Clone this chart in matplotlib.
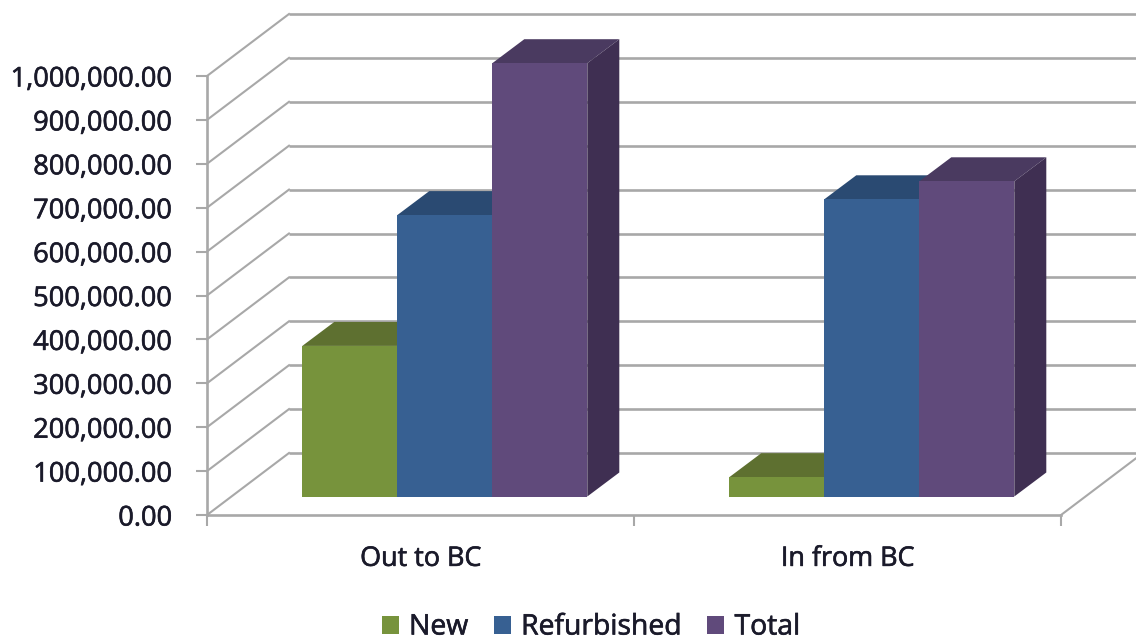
import matplotlib
matplotlib.use("Agg")
import matplotlib.pyplot as plt
import matplotlib.patheffects as pe
from matplotlib.patches import Polygon
from matplotlib.transforms import ScaledTranslation
from matplotlib.ticker import FuncFormatter

categories = ["Out to BC", "In from BC"]
series_names = ["New", "Refurbished", "Total"]
new_values = [343000, 44000]
refurbished_values = [641000, 677000]
total_values = [987000, 718000]
y_ticks = list(range(0, 1000001, 100000))

front_colors = ["#77933C", "#376092", "#604A7B"]
top_colors = ["#5E7030", "#2A4A72", "#4A3A60"]
side_colors = ["#4F5F28", "#233D5E", "#3F2F52"]
GRID = "#a8a8a8"
INK = "#1a1a2a"

W, H = 1136, 641
plt.rcParams["font.family"] = ["Open Sans", "DejaVu Sans"]
fig = plt.figure(figsize=(W / 100, H / 100), dpi=100, facecolor="white")
L, R, B, T = 207, 1061, 515, 76
ax = fig.add_axes([L / W, 1 - B / H, (R - L) / W, (B - T) / H])
ax.set_xlim(0, 2)
ax.set_ylim(0, 1000000)
ax.patch.set_visible(False)
for s in ("top", "right"):
    ax.spines[s].set_visible(False)
for s in ("left", "bottom"):
    ax.spines[s].set_color(GRID)
    ax.spines[s].set_linewidth(1.9)

px_x = 2 / (R - L)
px_y = 1000000 / (B - T)
wall_dx, wall_dy = 82 * px_x, 62 * px_y
bar_dx, bar_dy = 32 * px_x, 24 * px_y
bar_w = 95 * px_x

for t in y_ticks:
    ax.plot([0, wall_dx], [t, t + wall_dy], color=GRID, lw=1.5, clip_on=False, zorder=1)
    ax.plot([wall_dx, 2 + wall_dx], [t + wall_dy] * 2, color=GRID, lw=1.9,
            clip_on=False, zorder=1, solid_capstyle="butt")
ax.plot([2, 2 + wall_dx], [0, wall_dy], color=GRID, lw=1.5, clip_on=False, zorder=1)

shift = ax.transData + ScaledTranslation(24.3 / 100, 18.5 / 100, fig.dpi_scale_trans)
all_values = [new_values, refurbished_values, total_values]
z = 3
handles = []
for c in range(len(categories)):
    for i, values in enumerate(all_values):
        x0 = c + 0.5 + (i - 1.5) * bar_w
        v = values[c]
        ax.add_patch(Polygon([(x0, v), (x0 + bar_dx, v + bar_dy),
                              (x0 + bar_w + bar_dx, v + bar_dy), (x0 + bar_w, v)],
                             closed=True, fc=top_colors[i], ec="none",
                             transform=shift, zorder=z, clip_on=False))
        ax.add_patch(Polygon([(x0 + bar_w, 0), (x0 + bar_w + bar_dx, bar_dy),
                              (x0 + bar_w + bar_dx, v + bar_dy), (x0 + bar_w, v)],
                             closed=True, fc=side_colors[i], ec="none",
                             transform=shift, zorder=z, clip_on=False))
        b = ax.bar(x0, v, width=bar_w, align="edge", color=front_colors[i],
                   transform=shift, zorder=z + 1, clip_on=False,
                   label=series_names[i] if c == 0 else None)
        if c == 0:
            handles.append(b)
        z += 2

ax.set_xlim(0, 2)
ax.set_ylim(0, 1000000)
ax.set_yticks(y_ticks)
ax.yaxis.set_major_formatter(FuncFormatter(lambda v, _: f"{v:,.2f}"))
ax.tick_params(axis="y", length=8, width=1.5, color=GRID, pad=17, labelsize=19.6,
               labelcolor=INK)
ax.set_xticks([0, 1, 2])
ax.set_xticklabels([])
ax.set_xticks([0.5, 1.5], minor=True)
ax.set_xticklabels(categories, minor=True)
ax.tick_params(axis="x", which="major", length=8, width=1.5, color=GRID)
ax.tick_params(axis="x", which="minor", length=0, pad=21.5, labelsize=19.4,
               labelcolor=INK)

leg = fig.legend(handles=handles, labels=series_names, loc="center",
                 bbox_to_anchor=(591 / W, 1 - 627.5 / H), ncol=3, frameon=False,
                 fontsize=20.4, handlelength=0.6, handleheight=0.6, handletextpad=0.36,
                 columnspacing=0.9, labelcolor=INK, borderpad=0, borderaxespad=0)

heavier = [pe.withStroke(linewidth=0.45, foreground=INK)]
for t in ax.get_yticklabels() + ax.get_xticklabels(minor=True) + leg.get_texts():
    t.set_path_effects(heavier)

fig.savefig("out.png", dpi=100)
